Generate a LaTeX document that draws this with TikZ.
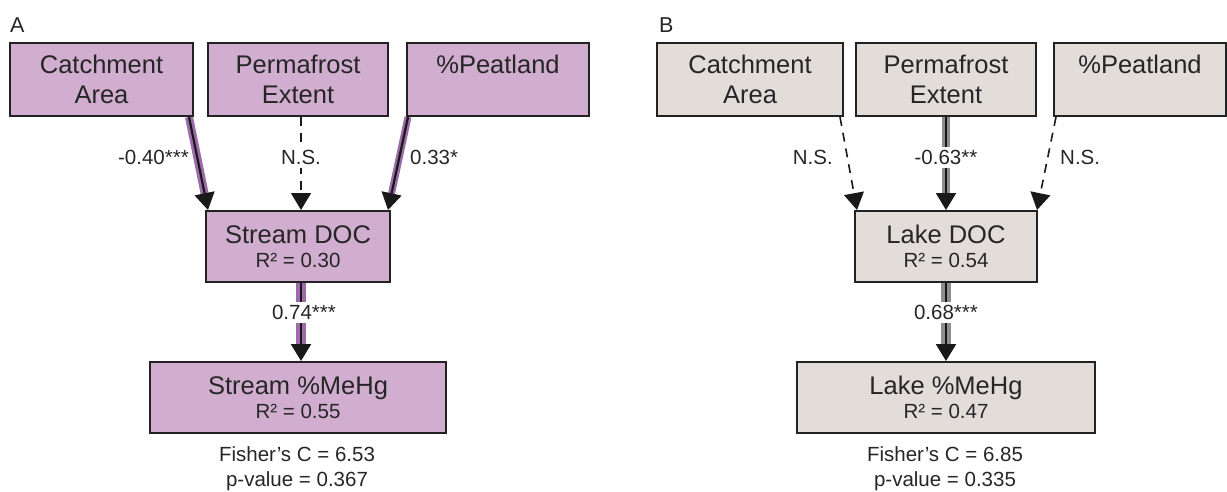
\documentclass[tikz,border=0pt]{standalone}
\usepackage{fontspec}
\setmainfont{Liberation Sans}
\usetikzlibrary{arrows.meta}
\pgfdeclarelayer{bg}
\pgfsetlayers{bg,main}
\definecolor{boxA}{HTML}{D1ADD0}
\definecolor{bandA}{HTML}{9C6BA8}
\definecolor{boxB}{HTML}{E3DDDA}
\definecolor{bandB}{HTML}{8E8E8E}
\definecolor{edgec}{HTML}{222222}
\definecolor{txt}{HTML}{262626}
\begin{document}
\begin{tikzpicture}[x=1pt,y=-1pt,
 every node/.style={text=txt},
 box/.style={draw=edgec, line width=2pt, inner sep=0pt, align=center, anchor=center},
 topfont/.style={font=\fontsize{25.5}{30}\selectfont},
 midfont/.style={font=\fontsize{25.5}{24}\selectfont},
 smallf/.style={font=\fontsize{20.5}{24}\selectfont},
 lbl/.style={smallf, inner sep=0pt},
 lblw/.style={smallf, fill=white, inner sep=3pt},
 tipstyle/.style={-{Triangle[length=17pt,width=20pt]}},
 sig/.style 2 args={tipstyle, line width=2.2pt, draw=black!90, preaction={draw=#1, line width=#2, -, shorten >=14pt}},
 nsig/.style={tipstyle, line width=1.6pt, dash pattern=on 9pt off 7pt, draw=black!90},
 panel/.style={font=\fontsize{21.5}{24}\selectfont, inner sep=0pt, anchor=base west}
]
\useasboundingbox (0,0) rectangle (1227,491);

% ---------- Panel A ----------
\node[panel] (labA) at (10,32) {A};
\node[box, fill=boxA, topfont, minimum width=183pt, minimum height=73pt] (caA) at (101.5,79.5) {Catchment\\Area};
\node[box, fill=boxA, topfont, minimum width=180pt, minimum height=73pt] (pfA) at (298,79.5) {Permafrost\\Extent};
\node[box, fill=boxA, topfont, minimum width=182pt, minimum height=73pt] (ptA) at (498,79.5) {\%Peatland\\\mbox{}};
\node[box, fill=boxA, midfont, minimum width=184pt, minimum height=71pt] (docA) at (298,246.5) {Stream DOC\\{\fontsize{20.5}{24}\selectfont R² = 0.30}};
\node[box, fill=boxA, midfont, minimum width=296pt, minimum height=71pt] (mhA) at (298,397.5) {Stream \%MeHg\\{\fontsize{20.5}{24}\selectfont R² = 0.55}};
\node[lbl, anchor=base] (fcA) at (297,461) {Fisher’s C = 6.53};
\node[lbl, anchor=base] (pvA) at (297,486) {p-value = 0.367};

\begin{pgfonlayer}{bg}
\draw[sig={bandA}{8pt}] ([xshift=-5pt]caA.south east) -- ([xshift=3pt]docA.north west);
\draw[nsig] ([xshift=3pt]pfA.south) -- ([xshift=3pt]docA.north);
\draw[sig={bandA}{7pt}] ([xshift=2pt]ptA.south west) -- ([xshift=-3pt]docA.north east);
\draw[sig={bandA}{9.5pt}] ([xshift=3pt]docA.south) -- ([xshift=3pt]mhA.north);
\end{pgfonlayer}

\node[lbl, anchor=base east] (eA1) at (189,164.5) {-0.40***};
\node[lblw, anchor=base] (eA2) at (301,164.5) {N.S.};
\node[lbl, anchor=base west] (eA3) at (410,164.5) {0.33*};
\node[lblw, anchor=base] (eA4) at (304,319.5) {0.74***};

% ---------- Panel B ----------
\node[panel] (labB) at (659,32) {B};
\node[box, fill=boxB, topfont, minimum width=186pt, minimum height=73pt] (caB) at (750,79.5) {Catchment\\Area};
\node[box, fill=boxB, topfont, minimum width=180pt, minimum height=73pt] (pfB) at (946,79.5) {Permafrost\\Extent};
\node[box, fill=boxB, topfont, minimum width=172pt, minimum height=73pt] (ptB) at (1140,79.5) {\%Peatland\\\mbox{}};
\node[box, fill=boxB, midfont, minimum width=182pt, minimum height=71pt] (docB) at (946,246.5) {Lake DOC\\{\fontsize{20.5}{24}\selectfont R² = 0.54}};
\node[box, fill=boxB, midfont, minimum width=298pt, minimum height=71pt] (mhB) at (946,397.5) {Lake \%MeHg\\{\fontsize{20.5}{24}\selectfont R² = 0.47}};
\node[lbl, anchor=base] (fcB) at (945,461) {Fisher’s C = 6.85};
\node[lbl, anchor=base] (pvB) at (945,486) {p-value = 0.335};

\begin{pgfonlayer}{bg}
\draw[nsig] ([xshift=-4pt]caB.south east) -- ([xshift=3pt]docB.north west);
\draw[sig={bandB}{8.5pt}] (pfB.south) -- (docB.north);
\draw[nsig] ([xshift=3pt]ptB.south west) -- ([xshift=-1pt]docB.north east);
\draw[sig={bandB}{9.5pt}] (docB.south) -- (mhB.north);
\end{pgfonlayer}

\node[lbl, anchor=base east] (eB1) at (833,164.5) {N.S.};
\node[lblw, anchor=base] (eB2) at (946,164.5) {-0.63**};
\node[lbl, anchor=base west] (eB3) at (1060,164.5) {N.S.};
\node[lblw, anchor=base] (eB4) at (946,319.5) {0.68***};
\end{tikzpicture}
\end{document}
